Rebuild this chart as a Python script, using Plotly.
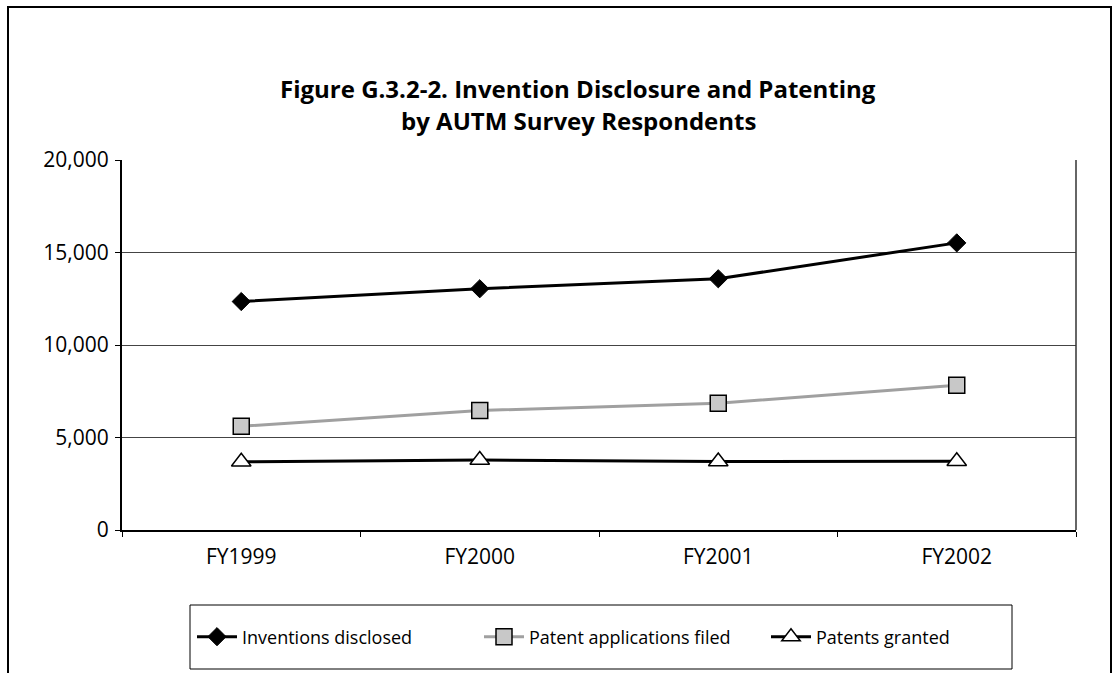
import plotly.graph_objects as go

years = ["FY1999", "FY2000", "FY2001", "FY2002"]
inventions = [12350, 13040, 13580, 15520]
applications = [5610, 6460, 6850, 7820]
granted = [3690, 3780, 3700, 3720]

W, H = 1114, 673
L, R, T, B = 122, 1076, 160, 530
pw, ph = R - L, B - T

def px(x):
    return (x - L) / pw

def py(y):
    return (B - y) / ph

FONT = "Open Sans"

fig = go.Figure()
fig.add_trace(go.Scatter(
    x=years, y=inventions, name="Inventions disclosed", mode="lines+markers",
    line=dict(color="black", width=3),
    marker=dict(symbol="diamond", size=14, color="black", line=dict(color="black", width=1)),
))
fig.add_trace(go.Scatter(
    x=years, y=applications, name="Patent applications filed", mode="lines+markers",
    line=dict(color="#a0a0a0", width=3),
    marker=dict(symbol="square", size=16, color="#c8c8c8", line=dict(color="black", width=1.5)),
))
fig.add_trace(go.Scatter(
    x=years, y=granted, name="Patents granted", mode="lines+markers",
    line=dict(color="black", width=3),
    marker=dict(symbol="triangle-up", size=17, color="white", line=dict(color="black", width=1.5)),
))

fig.update_layout(
    width=W, height=H,
    margin=dict(l=L, r=W - R, t=T, b=H - B),
    paper_bgcolor="white", plot_bgcolor="white",
    font=dict(family=FONT, color="black", size=21),
    showlegend=True,
    legend=dict(
        orientation="h", x=px(192), y=py(637), xanchor="left", yanchor="middle",
        font=dict(family=FONT, size=18, color="black"),
        bgcolor="rgba(0,0,0,0)", itemwidth=40, tracegroupgap=0,
        entrywidth=232, entrywidthmode="pixels",
    ),
    xaxis=dict(
        range=[-0.5, 3.5],
        showgrid=False, showline=True, linecolor="black", linewidth=1.5,
        ticks="outside", ticklen=5, tickcolor="black", tickson="boundaries",
        tickfont=dict(size=21, family=FONT), mirror=False,
        ticklabelstandoff=7,
    ),
    yaxis=dict(
        range=[0, 20000], dtick=5000, tickformat=",d",
        showgrid=True, gridcolor="#444444", gridwidth=1,
        showline=True, linecolor="black", linewidth=2,
        ticks="outside", ticklen=5, tickcolor="black",
        tickfont=dict(size=21, family=FONT), zeroline=False,
        ticklabelstandoff=2,
    ),
    shapes=[
        dict(type="line", xref="paper", yref="paper", x0=1, x1=1, y0=0, y1=1,
             line=dict(color="#333333", width=1.5)),
        dict(type="rect", xref="paper", yref="paper",
             x0=px(190), x1=px(1012), y0=py(669), y1=py(605),
             line=dict(color="black", width=1)),
        dict(type="rect", xref="paper", yref="paper",
             x0=px(8), x1=px(1111), y0=py(700), y1=py(7),
             line=dict(color="black", width=2)),
    ],
    annotations=[
        dict(text="<b>Figure G.3.2-2. Invention Disclosure and Patenting</b>",
             xref="paper", yref="paper", x=px(578), y=py(88),
             xanchor="center", yanchor="middle", showarrow=False,
             font=dict(family=FONT, size=24, color="black")),
        dict(text="<b>by AUTM Survey Respondents</b>",
             xref="paper", yref="paper", x=px(578), y=py(120),
             xanchor="center", yanchor="middle", showarrow=False,
             font=dict(family=FONT, size=24, color="black")),
    ],
)

fig.write_html("out.html", config={"displayModeBar": False},
               post_script="document.body.style.margin='0px';document.body.style.overflow='hidden';")
